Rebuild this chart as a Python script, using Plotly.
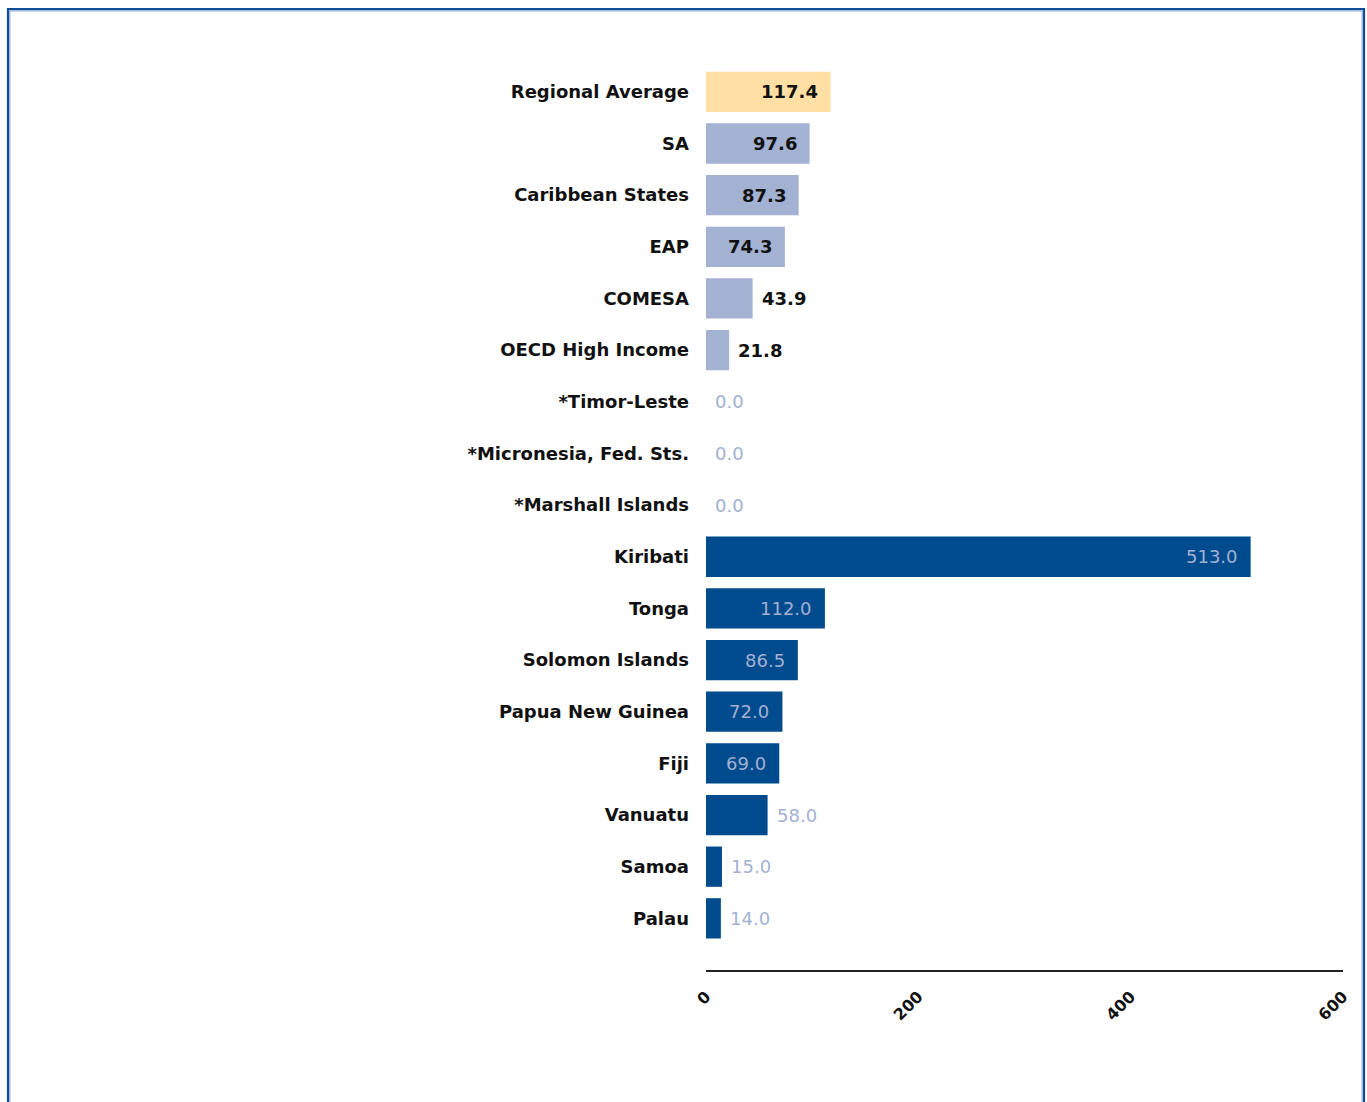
import plotly.graph_objects as go

categories = ["Regional Average", "SA", "Caribbean States", "EAP", "COMESA",
              "OECD High Income", "*Timor-Leste", "*Micronesia, Fed. Sts.",
              "*Marshall Islands", "Kiribati", "Tonga", "Solomon Islands",
              "Papua New Guinea", "Fiji", "Vanuatu", "Samoa", "Palau"]
values = [117.4, 97.6, 87.3, 74.3, 43.9, 21.8, 0.0, 0.0, 0.0,
          513.0, 112.0, 86.5, 72.0, 69.0, 58.0, 15.0, 14.0]
groups = ["avg", "comp", "comp", "comp", "comp", "comp", "country", "country",
          "country", "country", "country", "country", "country", "country",
          "country", "country", "country"]
x_ticks = [0, 200, 400, 600]

bar_colors = {"avg": "#FFDFA3", "comp": "#A3B1D3", "country": "#004B8D"}
LIGHT = "#A3B1D3"
FONT = "DejaVu Sans, Verdana, Tahoma, sans-serif"

W, H = 1367, 1102
L, R, T, B = 706, 24, 66, 132
PW, PH = W - L - R, H - T - B

fig = go.Figure()
fig.add_trace(go.Bar(
    x=values, y=categories, orientation="h",
    marker=dict(color=[bar_colors[g] for g in groups], line=dict(width=0)),
    width=0.78, hoverinfo="x+y",
))

annotations = []
for c, v, g in zip(categories, values, groups):
    inside = v >= 60
    if g == "country":
        col = LIGHT
        weight = "normal"
    else:
        col = "#111111"
        weight = "bold"
    annotations.append(dict(
        x=v, y=c, xref="x", yref="y", text=f"{v:.1f}", showarrow=False,
        xanchor="right" if inside else "left",
        xshift=-11 if inside else 7,
        font=dict(family=FONT, size=18, color=col, weight=weight),
    ))


def frame(off, color, width):
    return dict(type="rect", xref="paper", yref="paper",
                x0=(8 + off - L) / PW, x1=(1364 - off - L) / PW,
                y0=-0.3, y1=(PH + T - 9 - off) / PH,
                line=dict(color=color, width=width), layer="above")


fig.update_layout(
    width=W, height=H,
    margin=dict(l=L, r=R, t=T, b=B),
    paper_bgcolor="white", plot_bgcolor="white",
    showlegend=False, bargap=0.2,
    annotations=annotations,
    font=dict(family=FONT, color="#111111"),
    xaxis=dict(range=[0, 600], tickvals=x_ticks, ticktext=[str(t) for t in x_ticks],
               tickangle=-45, showgrid=False, zeroline=False,
               showline=True, linecolor="#222222", linewidth=2,
               ticks="", ticklabelstandoff=9,
               tickfont=dict(family=FONT, size=16, color="#111111", weight="bold")),
    yaxis=dict(categoryorder="array", categoryarray=categories,
               range=[17.0, -0.5], showgrid=False, zeroline=False,
               showline=False, ticks="", ticklabelstandoff=16,
               tickfont=dict(family=FONT, size=18, color="#111111", weight="bold")),
    shapes=[frame(0, "#0F4C9A", 2.2), frame(1.8, "#8FAAD3", 1.2)],
)

fig.write_html("out.html", config={"displayModeBar": False},
               post_script="document.body.style.margin='0px';document.body.style.overflow='hidden';")
